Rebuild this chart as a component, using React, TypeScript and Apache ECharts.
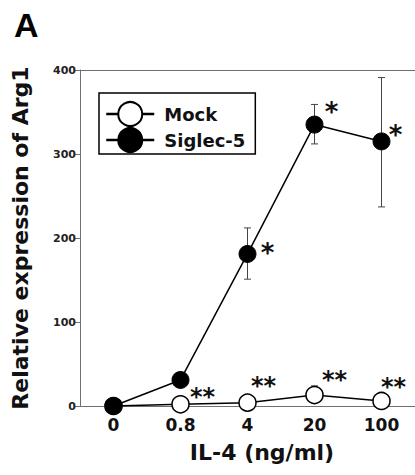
import React, { useEffect, useRef } from "react";
import * as echarts from "echarts";

const categories = ["0", "0.8", "4", "20", "100"];
const yTicks = [0, 100, 200, 300, 400];
const mockValues = [0, 2, 4, 13, 6];
const mockLow = [0, 2, 4, 5, 6];
const mockHigh = [0, 2, 4, 24, 6];
const sigValues = [0, 31, 181, 335, 315];
const sigLow = [0, 31, 151, 312, 237];
const sigHigh = [0, 31, 212, 359, 391];
const mockStars = ["", "**", "**", "**", "**"];
const sigStars = ["", "", "*", "*", "*"];

const FONT = "DejaVu Sans";
const AXIS_COLOR = "#707070";

export default function App() {
  const ref = useRef<HTMLDivElement>(null);
  useEffect(() => {
    if (!ref.current) return;
    const chart = echarts.init(ref.current, null, { renderer: "svg" });

    const errData = (low: number[], high: number[]) =>
      categories.map((_, i) => [i, low[i], high[i]]);

    const errSeries = (name: string, low: number[], high: number[]) => ({
      type: "custom",
      name: name + "-err",
      z: 1,
      silent: true,
      data: errData(low, high),
      renderItem: (params: any, api: any) => {
        const x = api.value(0);
        const lo = api.coord([x, api.value(1)]);
        const hi = api.coord([x, api.value(2)]);
        const hw = 3.5;
        const style = { stroke: "#444", lineWidth: 1, fill: "none" };
        return {
          type: "group",
          children: [
            { type: "line", shape: { x1: lo[0], y1: lo[1], x2: hi[0], y2: hi[1] }, style },
            { type: "line", shape: { x1: lo[0] - hw, y1: lo[1], x2: lo[0] + hw, y2: lo[1] }, style },
            { type: "line", shape: { x1: hi[0] - hw, y1: hi[1], x2: hi[0] + hw, y2: hi[1] }, style },
          ],
        };
      },
    });

    const starLabel = (text: string, offset: number[], size: number) => ({
      show: text !== "",
      formatter: text,
      position: "inside",
      offset,
      fontFamily: FONT,
      fontWeight: "bold",
      fontSize: size,
      color: "#111",
    });

    const mockOffsets = [[0, 0], [22, -7], [16, -17], [20, -15], [12, -14]];
    const sigOffsets = [[0, 0], [0, 0], [20, -1], [17, -13], [14, -6]];

    const option = {
      animation: false,
      backgroundColor: "#fff",
      grid: { left: 80, right: 0, top: 70, bottom: 69, containLabel: false },
      graphic: [
        {
          type: "text",
          left: 14,
          top: 8,
          style: { text: "A", fontFamily: "Liberation Sans", fontWeight: "bold", fontSize: 34, fill: "#000" },
        },
      ],
      legend: {
        left: 99,
        top: 93,
        orient: "vertical",
        data: ["Mock", "Siglec-5"],
        itemWidth: 48,
        itemHeight: 30,
        itemGap: 0,
        padding: [8, 10, 1, 6],
        borderColor: "#000",
        borderWidth: 1.5,
        backgroundColor: "#fff",
        lineStyle: { width: 2.5, color: "#000" },
        textStyle: { fontFamily: FONT, fontWeight: "bold", fontSize: 18, color: "#111", padding: [0, 0, 0, 5] },
      },
      xAxis: [
        {
          type: "category",
          data: categories,
          boundaryGap: true,
          axisLine: { lineStyle: { color: AXIS_COLOR, width: 1 } },
          axisTick: { alignWithLabel: true, length: 6, lineStyle: { color: AXIS_COLOR } },
          axisLabel: { fontFamily: FONT, fontWeight: "bold", fontSize: 17, color: "#111", margin: 10 },
          name: "IL-4 (ng/ml)",
          nameLocation: "middle",
          nameGap: 35,
          nameTextStyle: { fontFamily: FONT, fontWeight: "bold", fontSize: 22, color: "#111", padding: [0, 0, 0, 29] },
          splitLine: { show: false },
        },
        {
          type: "category",
          data: categories,
          position: "top",
          axisLine: { lineStyle: { color: AXIS_COLOR, width: 1 } },
          axisTick: { show: false },
          axisLabel: { show: false },
          splitLine: { show: false },
        },
      ],
      yAxis: {
        type: "value",
        min: yTicks[0],
        max: yTicks[yTicks.length - 1],
        interval: 100,
        axisLine: { show: true, lineStyle: { color: AXIS_COLOR, width: 1 } },
        axisTick: { show: true, length: 6, lineStyle: { color: AXIS_COLOR } },
        axisLabel: { fontFamily: FONT, fontWeight: "bold", fontSize: 11, color: "#222", margin: 4 },
        splitLine: { show: false },
        name: "Relative expression of Arg1",
        nameLocation: "middle",
        nameGap: 49,
        nameTextStyle: { fontFamily: FONT, fontWeight: "bold", fontSize: 22, color: "#111" },
      },
      series: [
        errSeries("Mock", mockLow, mockHigh),
        errSeries("Siglec-5", sigLow, sigHigh),
        {
          type: "line",
          name: "Mock",
          z: 3,
          symbol: "circle",
          symbolSize: 17,
          lineStyle: { color: "#000", width: 1.5 },
          itemStyle: { color: "#fff", borderColor: "#000", borderWidth: 1.5 },
          data: mockValues.map((v, i) => ({ value: v, label: starLabel(mockStars[i], mockOffsets[i], 24) })),
        },
        {
          type: "line",
          name: "Siglec-5",
          z: 4,
          symbol: "circle",
          symbolSize: 17,
          lineStyle: { color: "#000", width: 1.5 },
          itemStyle: { color: "#000", borderColor: "#000", borderWidth: 1 },
          data: sigValues.map((v, i) => ({ value: v, label: starLabel(sigStars[i], sigOffsets[i], 26) })),
        },
      ],
    };
    chart.setOption(option as any);
    return () => chart.dispose();
  }, []);
  return (
    <div
      ref={ref}
      style={{ position: "absolute", left: 0, top: 0, width: 415, height: 475 }}
    />
  );
}
